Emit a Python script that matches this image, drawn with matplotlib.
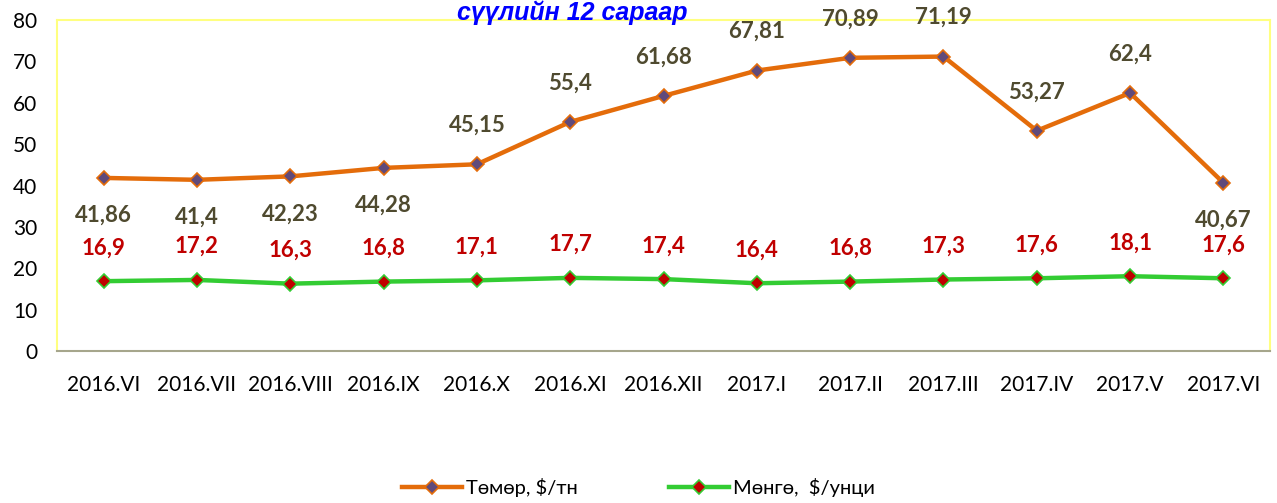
import matplotlib.pyplot as plt

plt.rcParams['font.family'] = ['Lato', 'DejaVu Sans']

# Data
months = ['2016.VI', '2016.VII', '2016.VIII', '2016.IX', '2016.X', '2016.XI', '2016.XII',
          '2017.I', '2017.II', '2017.III', '2017.IV', '2017.V', '2017.VI']
iron = [41.86, 41.4, 42.23, 44.28, 45.15, 55.4, 61.68, 67.81, 70.89, 71.19, 53.27, 62.4, 40.67]
silver = [16.9, 17.2, 16.3, 16.8, 17.1, 17.7, 17.4, 16.4, 16.8, 17.3, 17.6, 18.1, 17.6]
iron_labels = ['41,86', '41,4', '42,23', '44,28', '45,15', '55,4', '61,68',
               '67,81', '70,89', '71,19', '53,27', '62,4', '40,67']
silver_labels = ['16,9', '17,2', '16,3', '16,8', '17,1', '17,7', '17,4',
                 '16,4', '16,8', '17,3', '17,6', '18,1', '17,6']
# labels placed below the point for these
below = [0, 1, 2, 3, 12]

fig = plt.figure(figsize=(12.77, 5.03), dpi=100)
ax = fig.add_axes([0.0446, 0.302, 0.95, 0.658])

x = list(range(len(months)))
ax.plot(x, iron, color='#E46C0A', linewidth=3.2, marker='D', markersize=7.5,
        markerfacecolor='#604A7B', markeredgecolor='#E46C0A', markeredgewidth=1.2,
        label='Төмөр, $/тн')
ax.plot(x, silver, color='#33CC33', linewidth=3.2, marker='D', markersize=7.5,
        markerfacecolor='#C00000', markeredgecolor='#33CC33', markeredgewidth=1.2,
        label='Мөнгө,  $/унци')

for i in x:
    dy = -27 if i in below else 28
    ax.annotate(iron_labels[i], (i, iron[i]), xytext=(0, dy), textcoords='offset points',
                ha='center', va='center', fontsize=16, fontweight='bold', color='#4F4A2F')
    ax.annotate(silver_labels[i], (i, silver[i]), xytext=(0, 24), textcoords='offset points',
                ha='center', va='center', fontsize=16, fontweight='bold', color='#C00000')

ax.set_xlim(-0.5, 12.5)
ax.set_ylim(0, 80)
ax.set_yticks(range(0, 81, 10))
ax.set_xticks(x)
ax.set_xticklabels(months)
ax.tick_params(axis='both', length=0, labelsize=15, colors='black')
ax.tick_params(axis='x', pad=17)
ax.tick_params(axis='y', pad=14)

for s in ['left', 'top', 'right']:
    ax.spines[s].set_color('#FFFF80')
    ax.spines[s].set_linewidth(1.5)
ax.spines['bottom'].set_color('#A6A68C')
ax.spines['bottom'].set_linewidth(1.5)

fig.text(0.448, 1.0, 'сүүлийн 12 сараар', color='#0000FF', fontsize=18,
         fontweight='bold', style='italic', ha='center', va='top',
         family=['Liberation Sans', 'DejaVu Sans'])

fig.legend(loc='lower center', bbox_to_anchor=(0.5, -0.025), ncol=2, frameon=False,
           fontsize=14.5, handlelength=3.0, columnspacing=4.5, handletextpad=0.2)

plt.savefig('out.png', dpi=100)
